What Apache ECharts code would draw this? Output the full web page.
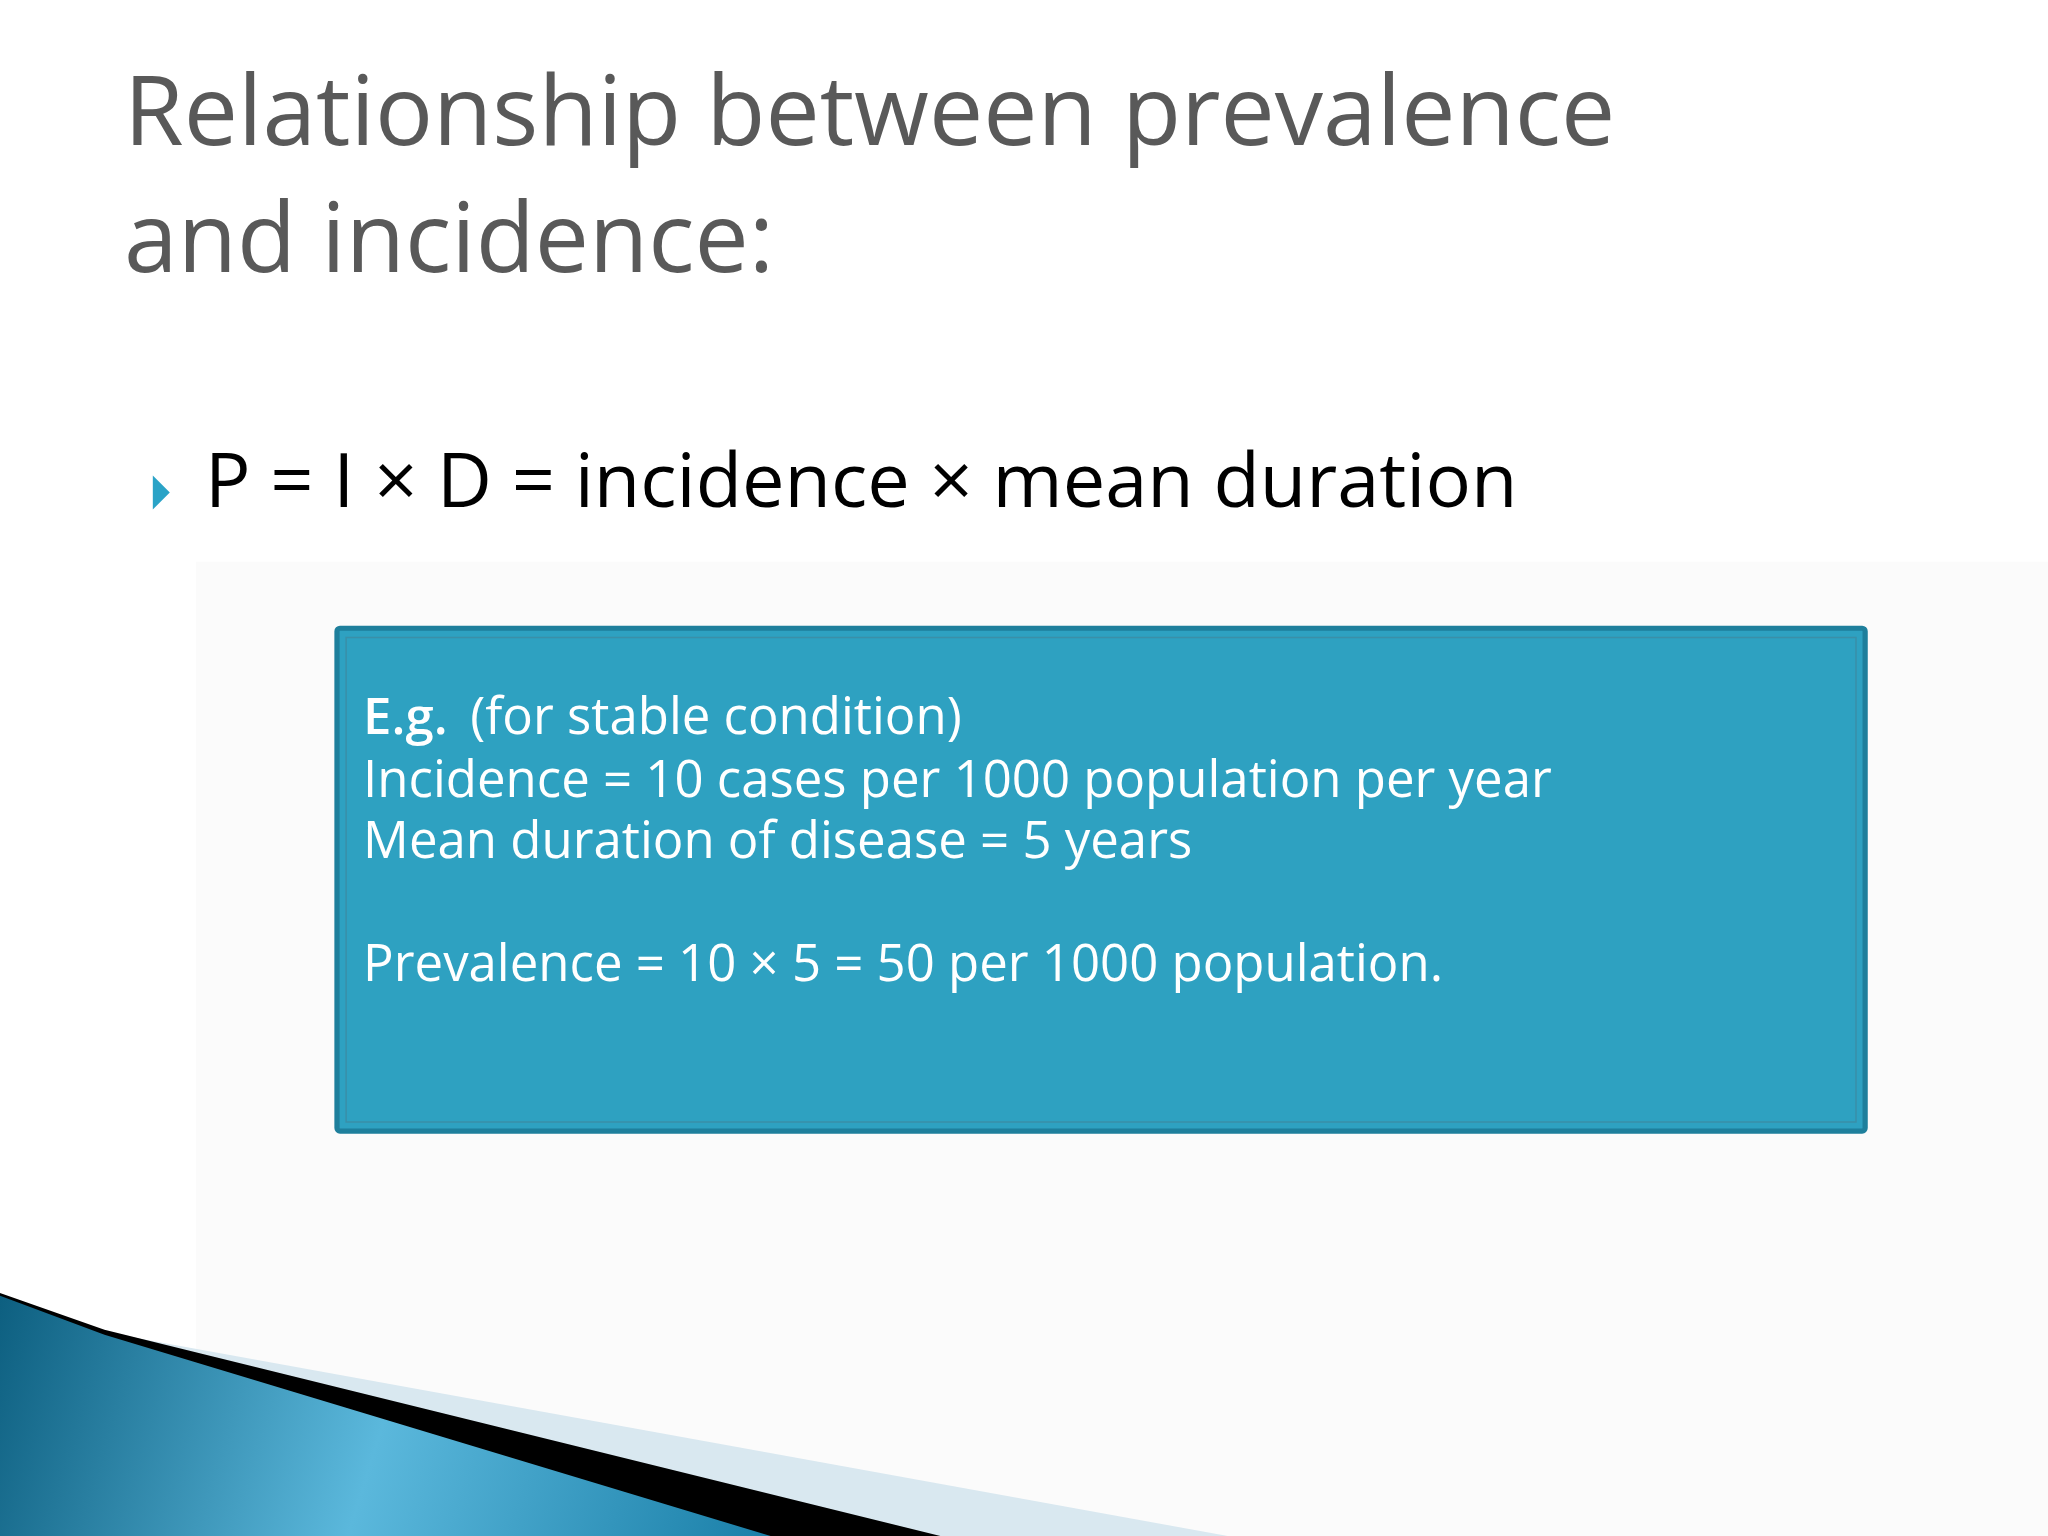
<!DOCTYPE html>
<html><head><meta charset="utf-8">
<script src="https://cdn.jsdelivr.net/npm/echarts@6/dist/echarts.min.js"></script>
<style>html,body{margin:0;padding:0;background:#fff}#c{width:2048px;height:1536px}</style>
</head><body><div id="c"></div>
<script>
const titleLines = ["Relationship between prevalence", "and incidence:"];
const bulletText = "P = I × D = incidence × mean duration";
const boxLines = ["(for stable condition)", "Incidence = 10 cases per 1000 population per year", "Mean duration of disease = 5 years", "", "Prevalence = 10 × 5 = 50 per 1000 population."];
const S = 2048/1568;
const p = v => v*S;
const chart = echarts.init(document.getElementById('c'));
const g = [];
// background faint band
g.push({type:'rect',shape:{x:p(150),y:p(430),width:p(1418),height:p(746)},style:{fill:'#fbfbfb'},z:0});
// title
titleLines.forEach((t,i)=>g.push({type:'text',x:p(95),y:p(90+i*97),style:{text:t,font:'500 '+p(74)+'px "Open Sans"',fill:'#595959',textVerticalAlign:'middle',shadowColor:'rgba(0,0,0,0.35)',shadowBlur:4,shadowOffsetX:2,shadowOffsetY:3},z:5}));
// bullet
g.push({type:'polygon',shape:{points:[[p(117),p(364)],[p(130),p(377)],[p(117),p(390)]]},style:{fill:'#2aa3c7'},z:5});
g.push({type:'text',x:p(157),y:p(372),style:{text:bulletText,font:'500 '+p(58)+'px "Open Sans"',fill:'#000',textVerticalAlign:'middle'},z:5});
// box
g.push({type:'rect',shape:{x:p(258),y:p(481),width:p(1170),height:p(385),r:3},style:{fill:'#2ea1c1',stroke:'#1e7f9c',lineWidth:p(4)},z:5});
g.push({type:'rect',shape:{x:p(265),y:p(488),width:p(1156),height:p(371)},style:{fill:'none',stroke:'#3a8fa8',lineWidth:1.5},z:6});
const ys=[551,599,646,693,740];
boxLines.forEach((t,i)=>{ if(!t) return;
  if(i===0){
    g.push({type:'text',x:p(278),y:p(ys[i]),style:{text:'E.g.',font:'600 '+p(39)+'px "Open Sans"',fill:'#fff',textVerticalAlign:'middle'},z:7});
    g.push({type:'text',x:p(360),y:p(ys[i]),style:{text:t,font:p(39)+'px "Open Sans"',fill:'#fff',textVerticalAlign:'middle'},z:7});
  } else g.push({type:'text',x:p(278),y:p(ys[i]),style:{text:t,font:p(39)+'px "Open Sans"',fill:'#fff',textVerticalAlign:'middle'},z:7});
});
// bottom decoration
g.push({type:'polygon',shape:{points:[[p(80),p(1020)],[p(940),p(1176)],[p(0),p(1176)]]},style:{fill:'#d9e8f0'},z:2});
g.push({type:'polygon',shape:{points:[[p(0),p(990)],[p(80),p(1018)],[p(720),p(1176)],[p(0),p(1176)]]},style:{fill:'#000'},z:3});
g.push({type:'polygon',shape:{points:[[p(0),p(992)],[p(80),p(1022)],[p(590),p(1176)],[p(0),p(1176)]]},style:{fill:{type:'linear',x:0,y:0,x2:1,y2:1,colorStops:[{offset:0,color:'#0d5f80'},{offset:0.5,color:'#5bb8dc'},{offset:1,color:'#1a7fa8'}]}},z:4});
chart.setOption({backgroundColor:'#fff',graphic:g});
</script></body></html>
